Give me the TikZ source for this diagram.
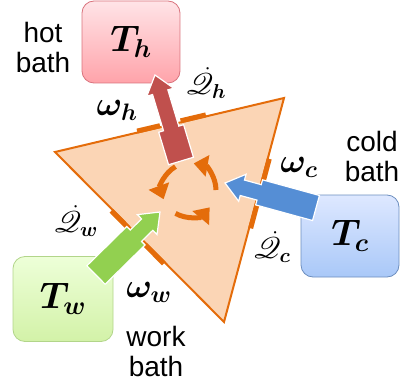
\RequirePackage{fix-cm}
\documentclass[tikz,border=0pt]{standalone}
\usepackage{amsmath,bm,mathrsfs,graphicx}
\usepackage{fontspec}
\setmainfont{Liberation Sans}
\usetikzlibrary{arrows.meta,calc}
\definecolor{OrangeLine}{HTML}{E46C0A}
\definecolor{EngineFill}{HTML}{FBD5B5}
\definecolor{HotArrow}{HTML}{C0504D}
\definecolor{ColdArrow}{HTML}{558ED5}
\definecolor{WorkArrow}{HTML}{92D050}
\definecolor{HotTop}{HTML}{FFE4E7}
\definecolor{HotBot}{HTML}{FFA3AA}
\definecolor{HotEdge}{HTML}{D9737D}
\definecolor{ColdTop}{HTML}{DEE8FF}
\definecolor{ColdBot}{HTML}{A9C8F8}
\definecolor{ColdEdge}{HTML}{6C8EBF}
\definecolor{WorkTop}{HTML}{EDFFD8}
\definecolor{WorkBot}{HTML}{D3F2A8}
\definecolor{WorkEdge}{HTML}{B2D58A}
% block arrow: colour, tail, tip, length of the wide part
\newcommand{\blockarrow}[4]{%
  \path[fill=#1,draw=white,line width=1.2pt,line join=miter]
    ($(#2)!13pt!90:(#3)$) -- ($(#2)!#4!(#3)!13pt!90:(#3)$) -- ($(#2)!#4!(#3)!8pt!90:(#3)$)
    -- ($(#3)!18pt!(#2)!8pt!-90:(#2)$) -- ($(#3)!18pt!(#2)!14pt!-90:(#2)$) -- (#3)
    -- ($(#3)!18pt!(#2)!14pt!90:(#2)$) -- ($(#3)!18pt!(#2)!8pt!90:(#2)$)
    -- ($(#2)!#4!(#3)!8pt!-90:(#3)$) -- ($(#2)!#4!(#3)!13pt!-90:(#3)$)
    -- ($(#2)!13pt!-90:(#3)$) -- cycle;}
\newcommand{\heatrate}[1]{\scalebox{1.2}{$\dot{\mathscr{Q}}_{\bm{#1}}$}}

\begin{document}
\begin{tikzpicture}[x=1pt,y=-1pt,
  bath/.style={draw,rounded corners=12pt,minimum width=98pt,minimum height=82pt,inner sep=0pt,line width=0.8pt,font=\fontsize{37}{39}\selectfont},
  lbl/.style={align=center,font=\fontsize{28}{30}\selectfont},
  sym/.style={inner sep=0pt,font=\fontsize{34}{36}\selectfont},
  flow/.style={inner sep=0pt,font=\fontsize{24}{26}\selectfont},
  contact/.style={draw=OrangeLine,line width=5pt},
  cyc/.style={draw=OrangeLine,line width=5pt,-{Triangle[length=14pt,width=21pt]}}
]
\useasboundingbox (0,0) rectangle (404,385);
% engine
\coordinate (tl) at (55,152);
\coordinate (tr) at (284,98);
\coordinate (tb) at (224,322);
\coordinate (ctr) at (189,190);
\filldraw[fill=EngineFill,draw=OrangeLine,line width=2pt,line join=miter] (tl) -- (tr) -- (tb) -- cycle;
\foreach \a/\b/\s/\e in {tl/tr/0.36/0.46, tl/tr/0.55/0.66, tr/tb/0.27/0.38, tr/tb/0.46/0.58, tb/tl/0.35/0.46, tb/tl/0.56/0.66}
  \draw[contact] ($(\a)!\s!(\b)!1.5pt!90:(\b)$) -- ($(\a)!\e!(\b)!1.5pt!90:(\b)$);
% baths
\node[bath,top color=HotTop,bottom color=HotBot,draw=HotEdge] (hot) at (131,42) {$\bm{T_h}$};
\node[bath,top color=ColdTop,bottom color=ColdBot,draw=ColdEdge] (cold) at (350,236) {$\bm{T_c}$};
\node[bath,top color=WorkTop,bottom color=WorkBot,draw=WorkEdge,minimum width=100pt,minimum height=85pt] (work) at (63,299) {$\bm{T_w}$};
\node[lbl] (hotlbl) at (43,47) {hot\\bath};
\node[lbl] (coldlbl) at (372,156) {cold\\bath};
\node[lbl] (worklbl) at (156,351) {work\\bath};
% heat flows
\coordinate (hin) at (181,161);
\coordinate (htip) at (155,75);
\coordinate (cout) at (316,208);
\coordinate (ctip) at (225,183);
\coordinate (wout) at (96,275);
\coordinate (wtip) at (160,212);
\blockarrow{HotArrow}{hin}{htip}{34pt}
\blockarrow{ColdArrow}{cout}{ctip}{59pt}
\blockarrow{WorkArrow}{wout}{wtip}{56pt}
\foreach \s in {120,240,360}
  \draw[cyc] ($(ctr)+(\s:27)$) arc[start angle=\s,end angle=\s-80,radius=27];
% labels
\node[sym] (omh) at (117,110) {$\bm{\omega_h}$};
\node[sym] (omc) at (299,167) {$\bm{\omega_c}$};
\node[sym] (omw) at (149,292) {$\bm{\omega_w}$};
\node[flow] (qh) at (206,83) {\heatrate{h}};
\node[flow] (qc) at (272,247) {\heatrate{c}};
\node[flow] (qw) at (76,221) {\heatrate{w}};
\end{tikzpicture}
\end{document}
